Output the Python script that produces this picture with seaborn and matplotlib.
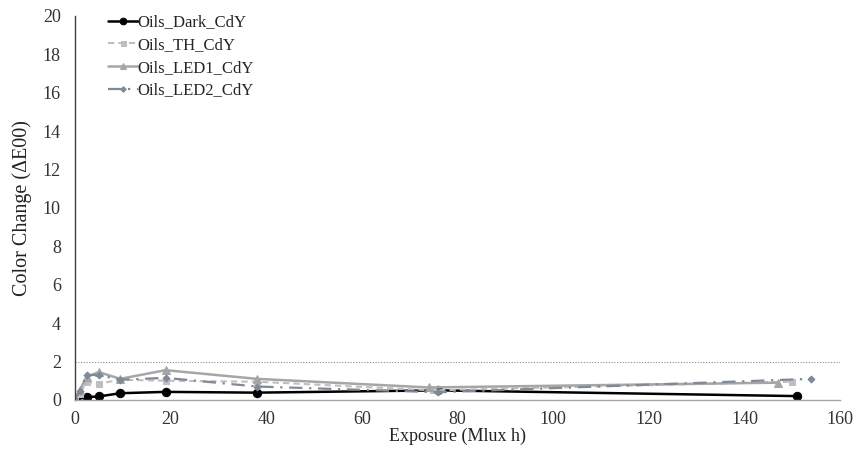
import matplotlib
matplotlib.use("Agg")
import matplotlib.pyplot as plt
import seaborn as sns
import pandas as pd

dark_x = [0, 2.5, 5, 9.5, 19, 38, 76, 151]
dark_y = [0, 0.15, 0.18, 0.35, 0.42, 0.38, 0.5, 0.2]
th_x = [0, 1, 2.5, 5, 9.5, 19, 38, 75, 150]
th_y = [0, 0.3, 0.95, 0.85, 1.05, 1.0, 0.95, 0.5, 0.95]
led1_x = [0, 1, 2.5, 5, 9.5, 19, 38, 74, 147]
led1_y = [0, 0.5, 1.2, 1.45, 1.1, 1.55, 1.1, 0.65, 0.9]
led2_x = [0, 1, 2.5, 5, 9.5, 19, 38, 76, 154]
led2_y = [0, 0.45, 1.3, 1.3, 1.05, 1.15, 0.7, 0.4, 1.1]
labels = ["Oils_Dark_CdY", "Oils_TH_CdY", "Oils_LED1_CdY", "Oils_LED2_CdY"]
threshold = 2
x_ticks = [0, 20, 40, 60, 80, 100, 120, 140, 160]
y_ticks = [0, 2, 4, 6, 8, 10, 12, 14, 16, 18, 20]

sns.set_theme(style="white")
plt.rcParams["font.family"] = ["Liberation Serif", "DejaVu Serif"]

fig = plt.figure(figsize=(8.59, 4.55), dpi=100)
ax = fig.add_axes([0.087, 0.121, 0.891, 0.844])

series = [
    (dark_x, dark_y, labels[0], "#000000", "-", "o", 6, 1.8),
    (th_x, th_y, labels[1], "#BFBFBF", (0, (3, 2)), "s", 4.5, 1.5),
    (led1_x, led1_y, labels[2], "#A6A6A6", "-", "^", 5.5, 1.8),
    (led2_x, led2_y, labels[3], "#7F8A96", (0, (6, 3, 1, 3)), "D", 3.5, 1.6),
]
for xs, ys, lab, col, ls, mk, ms, lw in series:
    df = pd.DataFrame({"x": xs, "y": ys})
    sns.lineplot(data=df, x="x", y="y", ax=ax, color=col, linestyle=ls,
                 marker=mk, markersize=ms, linewidth=lw, label=lab,
                 markeredgecolor=col, sort=False, estimator=None)

ax.axhline(threshold, color="#8C8C8C", linestyle=(0, (1, 1.5)), linewidth=0.8, zorder=0)

ax.set_xlim(0, 160)
ax.set_ylim(0, 20)
ax.set_xticks(x_ticks)
ax.set_yticks(y_ticks)
ax.tick_params(axis="y", labelsize=13, length=0, pad=10)
ax.tick_params(axis="x", labelsize=13, length=0, pad=8)
for t in ax.get_xticklabels() + ax.get_yticklabels():
    t.set_color("#333333")
ax.set_xlabel("Exposure (Mlux h)", fontsize=13, color="#222222", labelpad=0)
ax.set_ylabel("Color Change (ΔE00)", fontsize=14.5, color="#222222", labelpad=8)

for s in ["top", "right"]:
    ax.spines[s].set_visible(False)
ax.spines["left"].set_color("#404040")
ax.spines["left"].set_linewidth(1.0)
ax.spines["bottom"].set_color("#A6A6A6")
ax.spines["bottom"].set_linewidth(1.0)

leg = ax.legend(loc="upper left", bbox_to_anchor=(0.03, 1.03), frameon=False,
                fontsize=12, handlelength=1.8, handletextpad=0.0,
                labelspacing=0.4, borderaxespad=0.2, markerscale=0.8)

fig.savefig("out.png", dpi=100)
